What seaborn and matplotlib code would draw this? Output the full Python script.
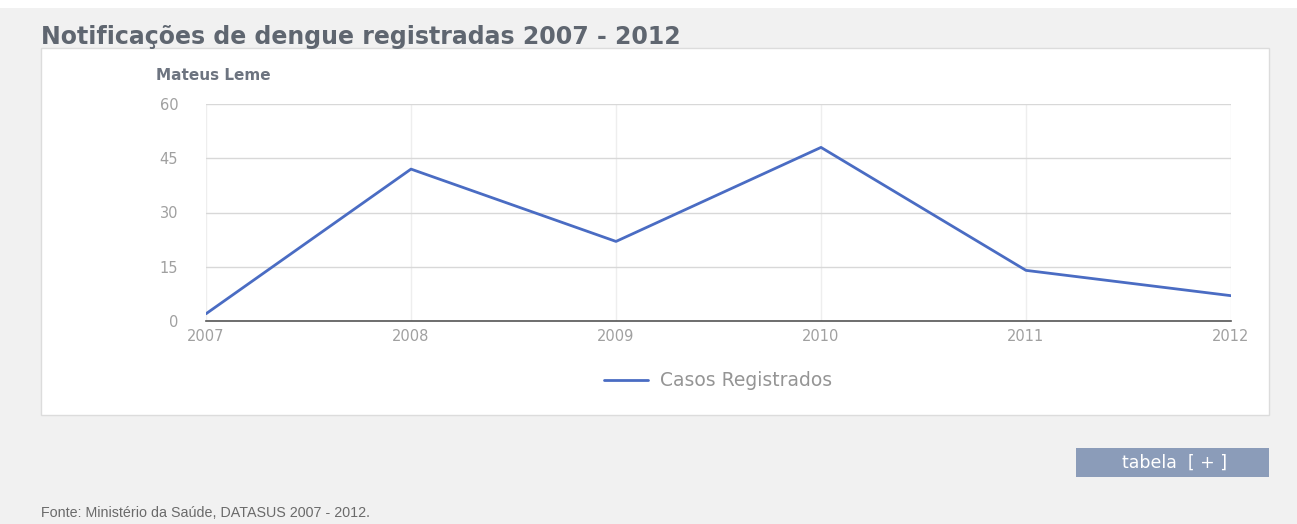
import matplotlib
matplotlib.use("Agg")
import matplotlib.pyplot as plt
from matplotlib.patches import Rectangle
import seaborn as sns
import pandas as pd

years = [2007, 2008, 2009, 2010, 2011, 2012]
casos = [2, 42, 22, 48, 14, 7]
series_name = "Casos Registrados"
yticks = [0, 15, 30, 45, 60]

sns.set_theme(style="white")
plt.rcParams['font.family'] = ['DejaVu Sans']

W, H = 1297, 524
fig = plt.figure(figsize=(W / 100, H / 100), dpi=100)
fig.patch.set_facecolor("#f1f1f1")

def fx(px):
    return px / W

def fy(py):
    return 1 - py / H

# white panel
fig.patches.append(Rectangle((fx(41), fy(415)), fx(1269) - fx(41), fy(48) - fy(415),
                             transform=fig.transFigure, facecolor="white",
                             edgecolor="#dcdcdc", linewidth=1, zorder=-10))
# white strip at top
fig.patches.append(Rectangle((0, fy(8)), 1, fy(0) - fy(8), transform=fig.transFigure,
                             facecolor="white", edgecolor="none", zorder=-10))

ax = fig.add_axes([fx(206), fy(321), fx(1231) - fx(206), fy(104) - fy(321)])
ax.set_zorder(5)
ax.set_facecolor("white")
df = pd.DataFrame({"Ano": years, "Casos": casos, "Serie": series_name})
sns.lineplot(data=df, x="Ano", y="Casos", ax=ax, color="#4a6cc3", linewidth=2.0,
             label=series_name)

ax.set_xlim(2007, 2012)
ax.set_ylim(0, 60)
ax.set_xticks(years)
ax.set_xticklabels([str(y) for y in years])
ax.set_yticks(yticks)
ax.set_xlabel("")
ax.set_ylabel("")
ax.grid(axis="y", color="#d8d8d8", linewidth=1)
ax.grid(axis="x", color="#eeeeee", linewidth=1)
ax.set_axisbelow(True)
for s in ["top", "right", "left"]:
    ax.spines[s].set_visible(False)
ax.spines["bottom"].set_color("#555555")
ax.spines["bottom"].set_linewidth(1.2)
ax.tick_params(axis="y", length=0, pad=20, labelsize=10.5, labelcolor="#a0a0a0")
ax.tick_params(axis="x", length=0, pad=6, labelsize=10.5, labelcolor="#a0a0a0")

leg = ax.legend(loc="center", bbox_to_anchor=(fx(718), fy(381)),
                bbox_transform=fig.transFigure, frameon=False, fontsize=13.5,
                handlelength=2.35, handletextpad=0.6)
for t in leg.get_texts():
    t.set_color("#959595")

fig.text(fx(41), fy(37), "Notificações de dengue registradas 2007 - 2012",
         fontsize=17, fontweight="bold", color="#5f6670", va="center", ha="left")
fig.text(fx(156), fy(75), "Mateus Leme", fontsize=11, fontweight="bold",
         color="#6d7480", va="center", ha="left")

# button
fig.patches.append(Rectangle((fx(1076), fy(477)), fx(1269) - fx(1076), fy(448) - fy(477),
                             transform=fig.transFigure, facecolor="#8b9cb9",
                             edgecolor="none", zorder=-10))
fig.text(fx(1175), fy(463), "tabela  [ + ]", fontsize=12.5, color="white",
         va="center", ha="center")

fig.text(fx(41), fy(513), "Fonte: Ministério da Saúde, DATASUS 2007 - 2012.",
         fontsize=10.3, color="#6a6a6a", va="center", ha="left",
         family=["Liberation Sans", "DejaVu Sans"])

fig.savefig("out.png", dpi=100, facecolor=fig.get_facecolor())
